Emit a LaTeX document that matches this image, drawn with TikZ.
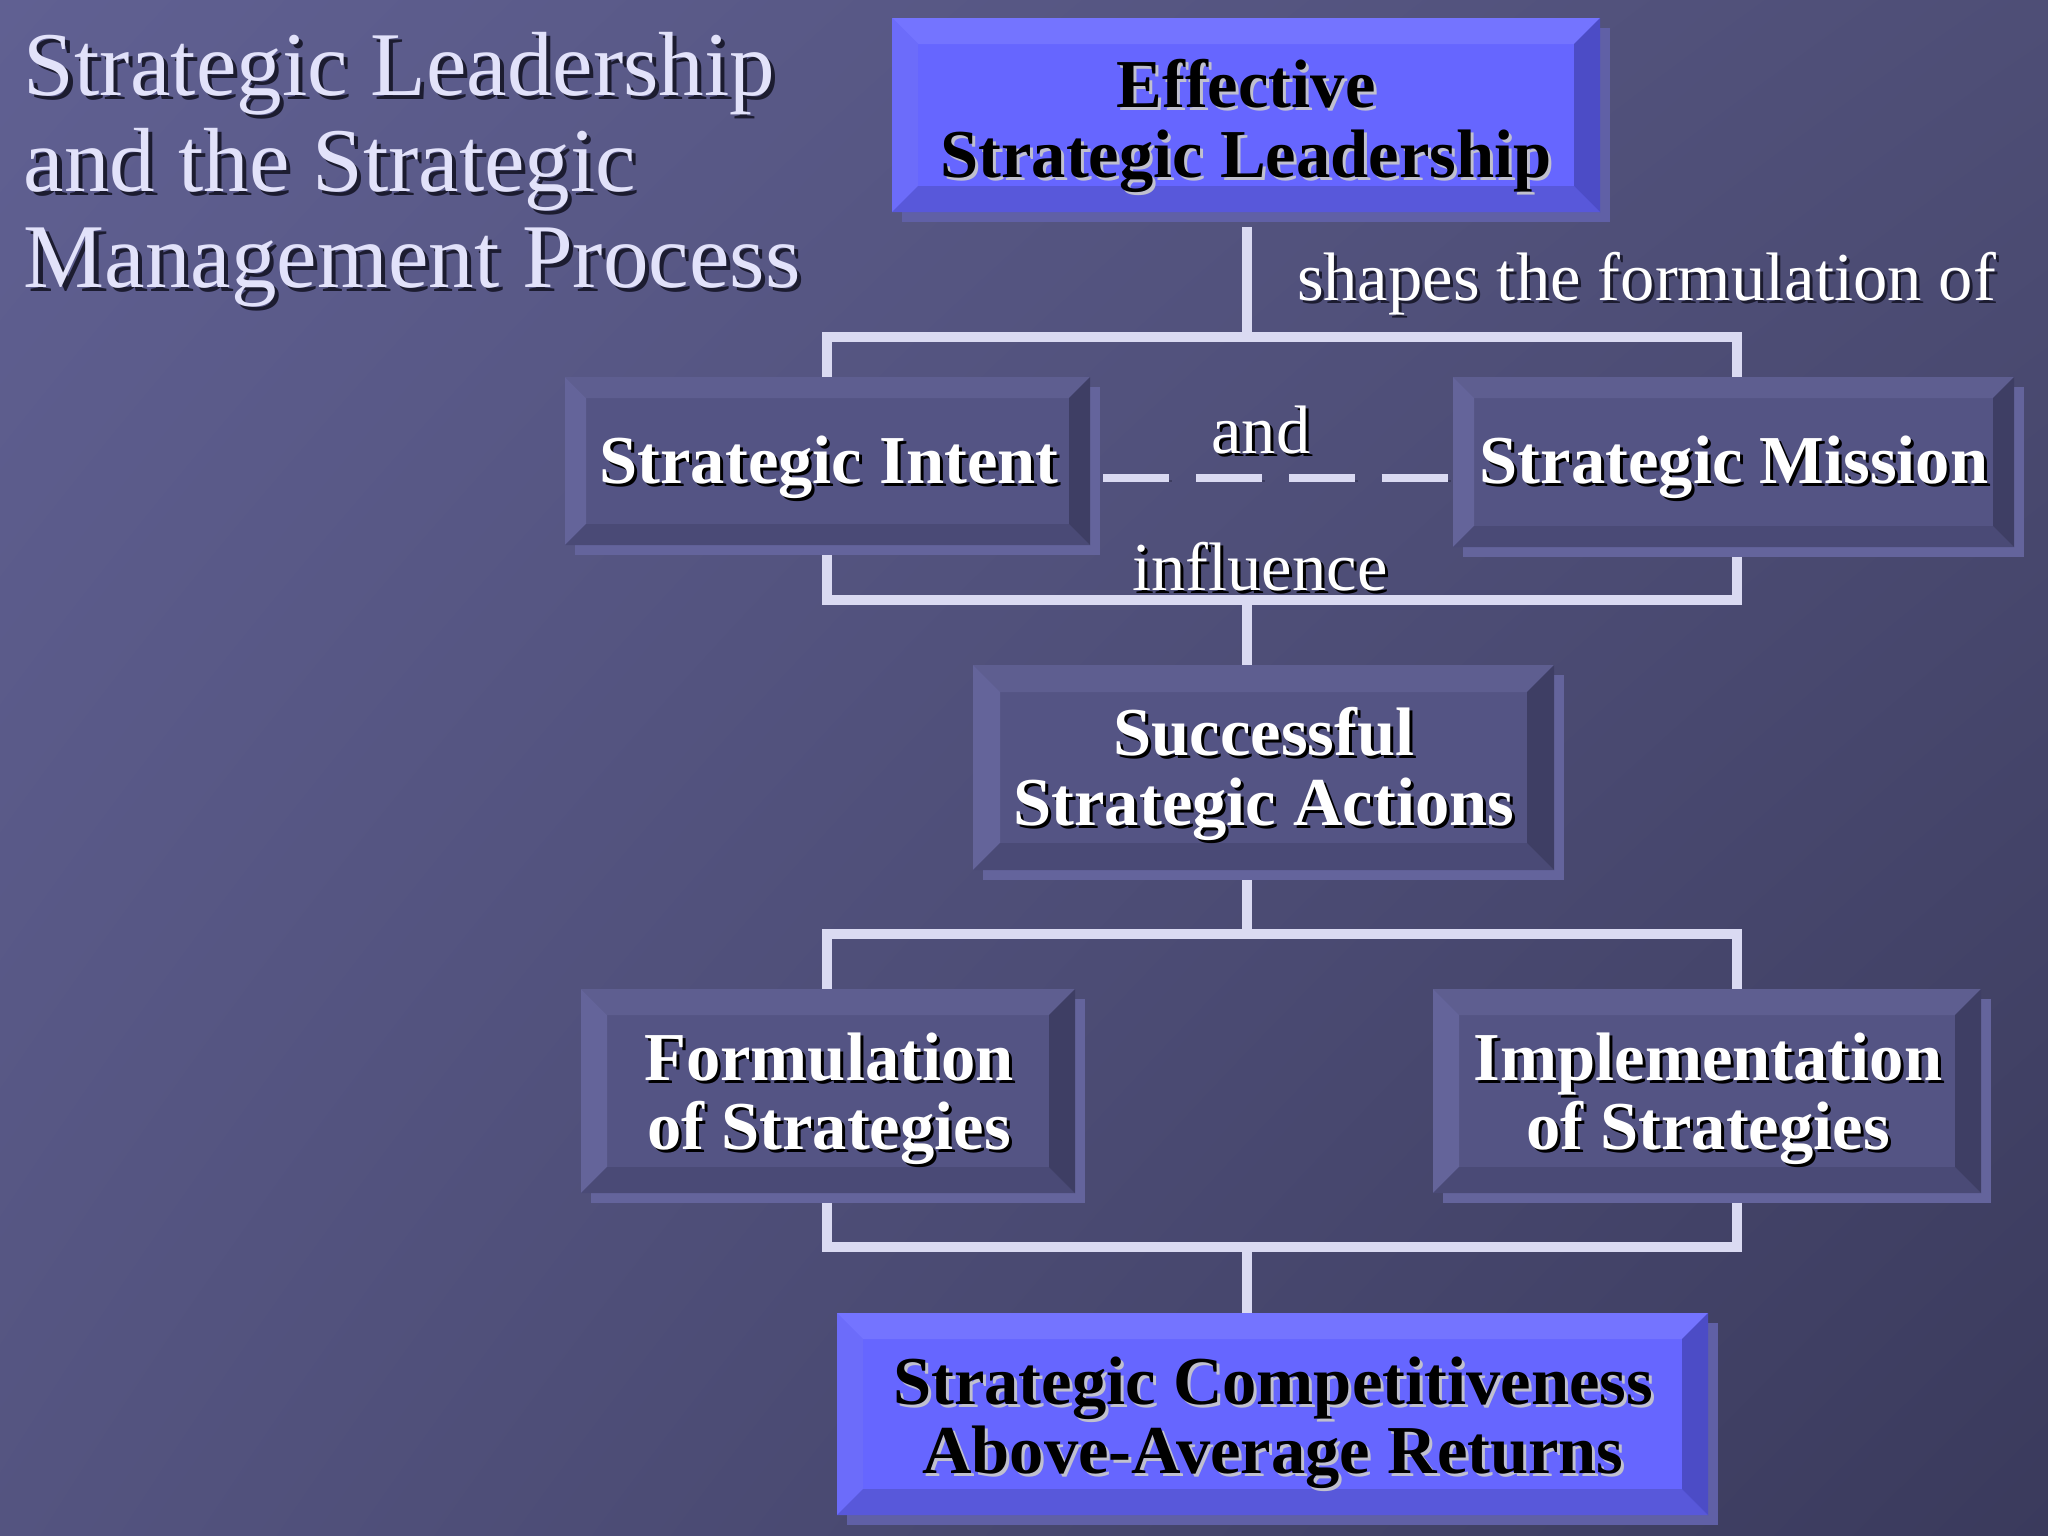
\documentclass[tikz,border=0pt]{standalone}
\usepackage{fontspec}
\setmainfont{Liberation Serif}
\usetikzlibrary{calc,shadings}
\definecolor{bgTL}{RGB}{96,96,146}
\definecolor{bgTR}{RGB}{78,78,118}
\definecolor{bgBL}{RGB}{84,84,128}
\definecolor{bgBR}{RGB}{58,58,92}
\definecolor{linec}{RGB}{218,218,242}
\definecolor{linesh}{RGB}{48,48,78}
\definecolor{gface}{RGB}{84,84,132}
\definecolor{gtop}{RGB}{94,94,144}
\definecolor{gleft}{RGB}{100,100,154}
\definecolor{gbot}{RGB}{74,74,118}
\definecolor{gright}{RGB}{62,62,100}
\definecolor{gsh}{RGB}{100,100,156}
\definecolor{bface}{RGB}{102,102,255}
\definecolor{btop}{RGB}{116,116,255}
\definecolor{bleft}{RGB}{108,108,250}
\definecolor{bbot}{RGB}{88,88,218}
\definecolor{bright}{RGB}{76,76,198}
\definecolor{bsh}{RGB}{96,96,166}
\definecolor{titc}{RGB}{226,226,250}
\definecolor{titsh}{RGB}{28,28,48}
\definecolor{blksh}{RGB}{192,192,206}
\newcommand\boxfont{\fontsize{19.5}{19.7}\selectfont\bfseries}
\newcommand\labfont{\fontsize{19.5}{19.7}\selectfont}
\newcommand\titfont{\fontsize{25.9}{27.3}\selectfont}
% beveled box: #1 name, #2 x1, #3 y1, #4 x2, #5 y2, #6 bevel, #7 palette prefix
\newcommand\bevbox[7]{%
  \fill[#7sh] (#2+10,#3+10) rectangle (#4+10,#5+10);
  \fill[#7face] (#2,#3) rectangle (#4,#5);
  \fill[#7top] (#2,#3) -- (#4,#3) -- (#4-#6,#3+#6) -- (#2+#6,#3+#6) -- cycle;
  \fill[#7left] (#2,#3) -- (#2+#6,#3+#6) -- (#2+#6,#5-#6) -- (#2,#5) -- cycle;
  \fill[#7bot] (#2,#5) -- (#2+#6,#5-#6) -- (#4-#6,#5-#6) -- (#4,#5) -- cycle;
  \fill[#7right] (#4,#3) -- (#4,#5) -- (#4-#6,#5-#6) -- (#4-#6,#3+#6) -- cycle;
  \node[boxarea, minimum width={(#4-#2)*0.01cm}, minimum height={(#5-#3)*0.01cm}] (#1) at ({(#2+#4)/2},{(#3+#5)/2}) {};
}
% text with drop shadow: #1 name, #2 position, #3 options, #4 colour, #5 shadow colour, #6 offset, #7 text
\newcommand\shtext[7]{%
  \node[#3, text=#5] (#1-sh) at ($#2+(#6,#6)$) {#7};
  \node[#3, text=#4] (#1) at #2 {#7};
}
\tikzset{
  boxarea/.style={rectangle, inner sep=0pt, outer sep=0pt},
  txt/.style={inner sep=0pt, outer sep=0pt, align=center},
  conn/.style={draw=linec, line width=3pt, line join=miter, line cap=rect,
    preaction={draw=linesh, draw opacity=0.6, transform canvas={shift={(3,3)}}}},
  dashc/.style={draw=linec, line width=2.3pt, line cap=butt, dash pattern=on 18.8pt off 7.6pt,
    preaction={draw=linesh, draw opacity=0.6, dash pattern=on 18.8pt off 7.6pt, transform canvas={shift={(3,3)}}}},
}
\begin{document}
\begin{tikzpicture}[x=0.01cm, y=-0.01cm]
\useasboundingbox (0,0) rectangle (2048,1536);
\shade[upper left=bgTL, upper right=bgTR, lower left=bgBL, lower right=bgBR] (0,0) rectangle (2048,1536);

% invisible placeholders so connectors can be drawn before boxes
\node[boxarea, minimum width=7.08cm, minimum height=1.94cm] (esl) at (1246,115) {};
\node[boxarea, minimum width=5.25cm, minimum height=1.68cm] (si) at (827.5,461) {};
\node[boxarea, minimum width=5.61cm, minimum height=1.70cm] (sm) at (1733.5,462) {};
\node[boxarea, minimum width=5.81cm, minimum height=2.05cm] (ssa) at (1263.5,767.5) {};
\node[boxarea, minimum width=4.94cm, minimum height=2.04cm] (fos) at (828,1091) {};
\node[boxarea, minimum width=5.48cm, minimum height=2.04cm] (ios) at (1707,1091) {};
\node[boxarea, minimum width=8.71cm, minimum height=2.02cm] (sc) at (1272.5,1414) {};

% junctions
\coordinate (j1) at (1247,337);
\coordinate (jL1) at (827,337);
\coordinate (jR1) at (1737,337);
\coordinate (j2) at (1247,600);
\coordinate (jL2) at (827,600);
\coordinate (jR2) at (1737,600);
\coordinate (j3) at (1247,934);
\coordinate (jL3) at (827,934);
\coordinate (jR3) at (1737,934);
\coordinate (j4) at (1247,1247);
\coordinate (jL4) at (827,1247);
\coordinate (jR4) at (1737,1247);

% connectors
\draw[conn] ($(esl.south)+(1,20)$) -- (j1);
\draw[conn] (jL1 |- si.north) -- (jL1) -- (jR1) -- (jR1 |- sm.north);
\draw[dashc] ($(si.east)+(13,17)$) -- ($(sm.west)+(0,16)$);
\draw[conn] ($(jL2 |- si.south)+(0,14)$) -- (jL2) -- (jR2) -- ($(jR2 |- sm.south)+(0,12)$);
\draw[conn] (j2) -- (j2 |- ssa.north);
\draw[conn] ($(j3 |- ssa.south)+(0,12)$) -- (j3);
\draw[conn] (jL3 |- fos.north) -- (jL3) -- (jR3) -- (jR3 |- ios.north);
\draw[conn] ($(jL4 |- fos.south)+(0,12)$) -- (jL4) -- (jR4) -- ($(jR4 |- ios.south)+(0,12)$);
\draw[conn] (j4) -- (j4 |- sc.north);

% boxes
\bevbox{eslbox}{892}{18}{1600}{212}{26}{b}
\bevbox{sibox}{565}{377}{1090}{545}{21}{g}
\bevbox{smbox}{1453}{377}{2014}{547}{21}{g}
\bevbox{ssabox}{973}{665}{1554}{870}{27}{g}
\bevbox{fosbox}{581}{989}{1075}{1193}{26}{g}
\bevbox{iosbox}{1433}{989}{1981}{1193}{26}{g}
\bevbox{scbox}{837}{1313}{1708}{1515}{26}{b}

% box texts
\shtext{t-esl}{(1246,126)}{txt, font=\boxfont}{black}{blksh}{3}{Effective\\Strategic Leadership}
\shtext{t-si}{(829,483)}{txt, anchor=base, font=\boxfont}{white}{black}{3}{Strategic Intent}
\shtext{t-sm}{(1734,483)}{txt, anchor=base, font=\boxfont}{white}{black}{3}{Strategic Mission}
\shtext{t-ssa}{(1264,774)}{txt, font=\boxfont}{white}{black}{3}{Successful\\Strategic Actions}
\shtext{t-fos}{(829,1099)}{txt, font=\boxfont}{white}{black}{3}{Formulation\\of Strategies}
\shtext{t-ios}{(1708,1099)}{txt, font=\boxfont}{white}{black}{3}{Implementation\\of Strategies}
\shtext{t-sc}{(1273,1423)}{txt, font=\boxfont}{black}{blksh}{3}{Strategic Competitiveness\\Above-Average Returns}

% connector labels
\shtext{l-shapes}{(1297,300)}{txt, anchor=base west, font=\labfont}{white}{titsh}{3}{shapes the formulation of}
\shtext{l-and}{(1261,453)}{txt, anchor=base, font=\labfont}{white}{black}{3}{and}
\shtext{l-infl}{(1260,590)}{txt, anchor=base, font=\labfont}{white}{black}{3}{influence}

% title
\shtext{title}{(24,170)}{inner sep=0pt, outer sep=0pt, align=left, anchor=west, font=\titfont}{titc}{titsh}{4}{Strategic Leadership\\and the Strategic\\Management Process}
\end{tikzpicture}
\end{document}
